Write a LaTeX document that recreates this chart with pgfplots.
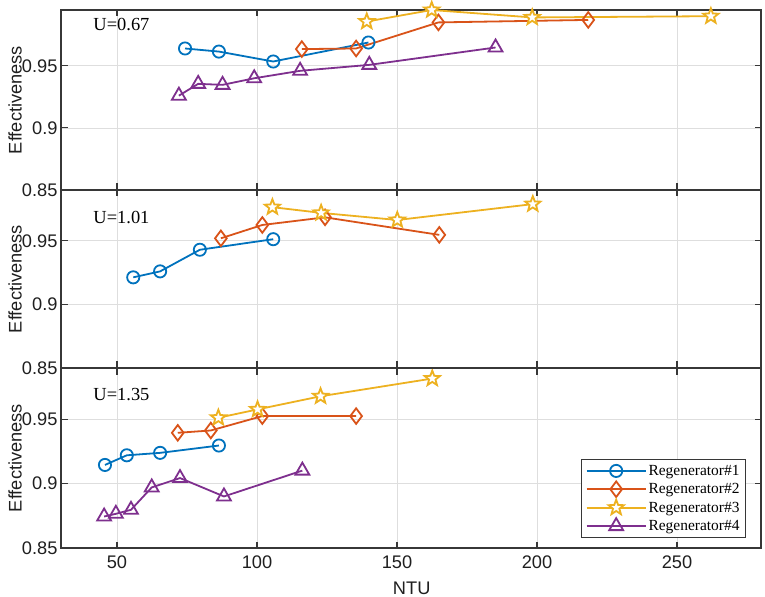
\documentclass[border=0pt]{standalone}
\usepackage{fontspec}
\setmainfont{Liberation Sans}
\newfontfamily\timesf{Liberation Serif}
\usepackage{pgfplots}
\pgfplotsset{compat=1.18}
\definecolor{c1}{RGB}{0,114,189}
\definecolor{c2}{RGB}{217,83,25}
\definecolor{c3}{RGB}{237,177,32}
\definecolor{c4}{RGB}{126,47,142}
\definecolor{frame}{RGB}{55,55,55}
\pgfdeclareplotmark{pstar}{%
 \pgfpathmoveto{\pgfpointpolar{90}{\pgfplotmarksize}}%
 \pgfpathlineto{\pgfpointpolar{126}{0.42\pgfplotmarksize}}%
 \pgfpathlineto{\pgfpointpolar{162}{\pgfplotmarksize}}%
 \pgfpathlineto{\pgfpointpolar{198}{0.42\pgfplotmarksize}}%
 \pgfpathlineto{\pgfpointpolar{234}{\pgfplotmarksize}}%
 \pgfpathlineto{\pgfpointpolar{270}{0.42\pgfplotmarksize}}%
 \pgfpathlineto{\pgfpointpolar{306}{\pgfplotmarksize}}%
 \pgfpathlineto{\pgfpointpolar{342}{0.42\pgfplotmarksize}}%
 \pgfpathlineto{\pgfpointpolar{18}{\pgfplotmarksize}}%
 \pgfpathlineto{\pgfpointpolar{54}{0.42\pgfplotmarksize}}%
 \pgfpathclose
 \pgfusepathqfillstroke}
\pgfplotsset{
 panel/.style={
  scale only axis, width=700bp,
  xmin=30, xmax=280, ymin=0.85,
  xtick={50,100,150,200,250},
  ytick={0.85,0.9,0.95}, yticklabels={0.85,0.9,0.95},
  tick align=inside, xtick pos=both, ytick pos=both,
  major tick length=6.5bp,
  grid=major, major grid style={black!13, line width=0.8bp},
  axis line style={frame, line width=1.1bp},
  every tick/.style={frame, line width=1.1bp},
  ticklabel style={font=\fontsize{18.3}{21}\selectfont, text=black!88},
  xticklabel style={yshift=-4bp},
  /pgf/number format/assume math mode=true,
  label style={font=\fontsize{18.3}{21}\selectfont, text=black!88},
  ylabel=Effectiveness,
  ylabel style={at={([xshift=-46bp]axis description cs:0,0.5)}, anchor=center},
  clip=false,
  every axis plot/.append style={line width=1.8bp},
 },
 r1/.style={c1, mark=o, mark size=6.1bp, mark options={fill=white}},
 r2/.style={c2, mark=diamond, mark size=7.8bp, mark options={fill=white}},
 r3/.style={c3, mark=pstar, mark size=8bp, mark options={fill=white}},
 r4/.style={c4, mark=triangle, mark size=8bp, mark options={fill=white}},
}
\begin{document}
\begin{tikzpicture}
\useasboundingbox (-61bp,-49bp) rectangle (704bp,548bp);
% bottom panel U=1.35
\begin{axis}[panel, at={(0,0)}, anchor=south west, height=180bp, ymax=0.99,
  xlabel=NTU,
  xlabel style={at={([yshift=-40.5bp]axis description cs:0.501,0)}, anchor=center},
  legend style={at={(0.9786,0.0556)}, anchor=south east,
    font=\timesf\fontsize{15.5}{18}\selectfont, draw=frame, line width=1.1bp,
    inner xsep=4bp, inner ysep=3.5bp, row sep=2.6bp},
  legend cell align=left,
  legend image code/.code={\draw[line width=1.8bp, mark repeat=2,mark phase=2] plot coordinates {(0bp,0bp) (29.5bp,0bp) (59bp,0bp)};}]
\addplot[r1] coordinates {(45.7,0.9146) (53.5,0.9221) (65.4,0.924) (86.4,0.9297)};
\addlegendentry{Regenerator\#1}
\addplot[r2] coordinates {(71.7,0.9396) (83.5,0.9414) (101.9,0.9526) (135.4,0.9526)};
\addlegendentry{Regenerator\#2}
\addplot[r3] coordinates {(86.2,0.9513) (100.2,0.9578) (122.7,0.968) (162.6,0.9818)};
\addlegendentry{Regenerator\#3}
\addplot[r4] coordinates {(45.4,0.8745) (49.6,0.8766) (55,0.8797) (62.4,0.8971) (72.5,0.9044) (88.2,0.8901) (116.2,0.9102)};
\addlegendentry{Regenerator\#4}
\node[anchor=west, font=\timesf\fontsize{18.5}{22}\selectfont] at (rel axis cs:0.0414,0.85) {U=1.35};
\end{axis}
% middle panel U=1.01
\begin{axis}[panel, at={(0,180bp)}, anchor=south west, height=178bp, ymax=0.99,
  xticklabels={}]
\addplot[r1] coordinates {(55.8,0.9213) (65.4,0.926) (79.6,0.943) (105.8,0.9513)};
\addplot[r2] coordinates {(87.1,0.952) (101.9,0.9625) (124.3,0.9685) (165.1,0.9547)};
\addplot[r3] coordinates {(105.5,0.9765) (122.9,0.972) (150.1,0.9664) (198.5,0.9789)};
\node[anchor=west, font=\timesf\fontsize{18.5}{22}\selectfont] at (rel axis cs:0.0414,0.848) {U=1.01};
\end{axis}
% top panel U=0.67
\begin{axis}[panel, at={(0,358bp)}, anchor=south west, height=180bp, ymax=0.995,
  xticklabels={}]
\addplot[r1] coordinates {(74.3,0.964) (86.4,0.9615) (105.8,0.9535) (139.8,0.9688)};
\addplot[r2] coordinates {(116,0.9635) (135.4,0.964) (164.8,0.985) (218.3,0.987)};
\addplot[r3] coordinates {(139.2,0.9857) (162.4,0.995) (198.3,0.989) (262.1,0.990)};
\addplot[r4] coordinates {(72.1,0.926) (79.0,0.9355) (87.7,0.9347) (99.0,0.940) (115.4,0.946) (140.1,0.9508) (185.2,0.9648)};
\node[anchor=west, font=\timesf\fontsize{18.5}{22}\selectfont] at (rel axis cs:0.0414,0.917) {U=0.67};
\end{axis}
\end{tikzpicture}
\end{document}
